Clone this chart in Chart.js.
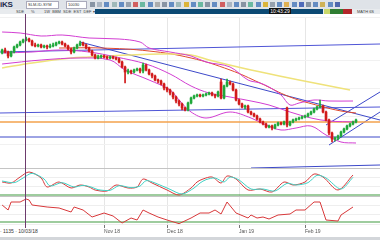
<!DOCTYPE html>
<html>
<head>
<meta charset="utf-8">
<script src="https://cdn.jsdelivr.net/npm/chart.js@4.4.1/dist/chart.umd.min.js"></script>
<style>
  body { margin: 0; width: 380px; height: 240px; overflow: hidden; background: #fff; position: relative;
         font-family: "Liberation Sans", Arial, sans-serif; }
  #toolbar { position: absolute; left: 0; top: 0; width: 380px; height: 9px; background: #dfe3e8; }
  #logo { position: absolute; left: 0; top: 0; font: bold 8px/9px "Liberation Sans"; color: #1d2b4c; letter-spacing: -0.3px; }
  .inp { position: absolute; top: 1px; height: 6px; background: #fff; border: 1px solid #aab; font: 4px/6px "Liberation Sans"; color: #333; padding-left: 1px; }
  .ico { position: absolute; top: 2px; width: 5px; height: 5px; }
  #infobar { position: absolute; left: 0; top: 9px; width: 380px; height: 5px; background: #e8ebee; font: 4px/5px "Liberation Sans"; color: #444; }
  #bluebar { position: absolute; left: 95px; top: 9px; width: 228px; height: 5px; background: #0c4a74; }
  #clock { position: absolute; left: 269px; top: 8px; width: 22px; height: 6px; background: #111; color: #fff; font: 5px/6px "Liberation Sans"; text-align: center; }
  #chartBox { position: absolute; left: 0; top: 14px; width: 380px; height: 223px; }
  #cross { position: absolute; left: 0; top: 228px; height: 7px; background: #fff; font: 5px/7px "Liberation Sans"; color: #333; padding-right: 1px; }
  #footer { position: absolute; left: 0; top: 237px; width: 380px; height: 3px; background: #d3d6da; }
</style>
</head>
<body>
<div id="toolbar">
  <div id="logo">iKS</div>
  <div class="inp" style="left:26px;width:30px">SLM-ID-SYM</div>
  <div class="inp" style="left:66px;width:18px">10030</div>
</div>
<div id="infobar">
  <span style="position:absolute;left:16px">SDE</span>
  <span style="position:absolute;left:31px">%</span>
  <span style="position:absolute;left:44px">1W&nbsp; BBM&nbsp; SDE&nbsp; EST&nbsp; DEF ▾</span>
  <span style="position:absolute;left:324px;top:0;width:6px;height:5px;background:#c9d86a"></span>
  <span style="position:absolute;left:330px;top:0;width:13px;height:5px;background:#2f7d32"></span>
  <span style="position:absolute;left:343px;top:0;width:9px;height:5px;background:#b3262a"></span>
  <span style="position:absolute;left:357px">MATH 6S</span>
</div>
<div id="bluebar"></div>
<div id="clock">10:43:29</div>
<div id="chartBox"><canvas id="chart" width="380" height="223"></canvas></div>
<div id="cross">· 1135 · 10/03/18</div>
<div id="footer"></div>

<script>
  // daily candles, one per index
  const opens  = [147,150,148,144,148,153,155,158,160,161,159,155,154,155,153,154,153,154,155,157,
                  158,156,154,151,148,152,155,157,155,152,149,145,142,143,144,143,142,143,142,141,
                  138,133,128,129,128,130,131,129,135,130,126,124,120,119,116,112,110,107,103,99,
                  96,92,90,97,102,104,105,104,105,106,107,105,104,118,102,114,118,116,110,100,
                  96,93,94,88,86,84,81,78,76,73,74,72,75,77,76,92,75,78,80,81,
                  82,83,84,86,88,91,93,94,88,80,67,61,62,64,68,71,74,76,78];
  const closes = [150,148,144,148,153,155,158,160,161,159,155,154,155,153,154,153,154,155,157,158,
                  156,154,151,148,152,155,157,155,152,149,145,142,143,144,143,142,143,142,141,138,
                  133,128,129,128,130,131,129,135,130,126,124,120,119,116,112,110,107,103,99,96,
                  92,90,97,102,104,105,104,105,106,107,105,104,108,102,114,118,116,110,100,96,
                  93,94,88,86,84,81,78,76,73,74,72,75,77,76,78,75,78,80,81,82,
                  83,84,86,88,91,93,94,88,80,67,61,62,64,68,71,74,76,78,80];
  const highs  = [151,152,149,149,154,156,159,161,163,162,160,157,156,156,155,155,156,157,158,159,
                  159,157,155,152,153,156,159,158,156,153,150,146,145,145,145,144,144,144,143,142,
                  139,134,131,130,131,132,132,137,136,131,127,125,121,120,117,113,111,108,104,100,
                  97,93,98,103,105,106,106,106,107,108,108,106,109,121,115,121,119,117,111,101,
                  97,95,95,89,87,85,82,79,77,75,75,76,78,78,79,93,79,81,82,83,
                  84,85,87,89,92,94,100,95,89,81,68,63,65,69,72,75,77,79,81];
  const lows   = [146,147,142,143,147,152,154,157,159,158,154,153,153,152,152,151,152,153,154,156,
                  155,153,150,146,147,151,154,154,151,148,144,141,141,142,142,141,141,141,140,137,
                  132,117,126,126,127,129,127,127,129,125,122,119,117,115,110,108,105,101,97,94,
                  90,89,89,96,101,103,103,103,104,105,104,102,103,101,101,113,115,109,99,95,
                  92,91,87,85,83,80,77,75,72,72,70,71,74,75,75,73,74,77,79,80,
                  81,82,83,85,87,90,92,87,79,65,58,59,60,63,67,70,73,75,77];

  // overlay lines, [index, price]
  const upperBand  = [[0,168],[6,167],[13,164],[20,165],[29,162],[39,161],[46,158],[49,152],[56,148],[63,144],
                      [68,138],[76,133],[82,120],[86,117],[89,113],[93,105],[96,95],[99,97],[104,100],[109,99],[117,99]];
  const middleBand = [[0,147],[10,148],[19,150],[29,148],[38,143],[48,136],[56,126],[63,114],[69,107],[76,103],
                      [83,99],[89,95],[96,88],[103,82],[109,79],[118,78]];
  const lowerBand  = [[0,136],[13,140],[26,142],[36,140],[41,130],[49,120],[56,110],[59,100],[63,88],[68,82],
                      [76,88],[83,82],[88,75],[93,70],[98,72],[103,74],[108,65],[113,58],[118,57]];
  const slowMA     = [[0,132],[10,137],[23,142],[29,143],[42,145],[53,146],[63,145],[69,140],[83,130],[99,120],[116,110]];
  const fastMA     = [[19,152],[33,152],[49,149],[63,142],[76,130],[86,117],[96,103],[106,94],[113,89],[118,87]];
  const trendDown  = [[26,158],[126,80]];
  const topLine    = [[-1,148],[126,156]];
  const midLine    = [[-1,87],[126,93]];
  const orangeLine = [[-1,78],[126,78]];
  const lowLine    = [[-1,63],[126,63]];
  const floorLine  = [[83,32],[126,35]];
  const channelUp  = [[108,75],[126,108]];
  const channelLow = [[109,55],[126,88]];

  // oscillators
  const stochK = [[0,54],[3,51],[6,69],[9,84],[13,66],[15,39],[19,54],[23,36],[26,45],[29,39],[31,30],[35,27],
                  [38,45],[42,36],[45,39],[47,63],[50,51],[55,30],[59,15],[63,36],[65,54],[67,63],[70,69],[73,51],
                  [75,72],[78,63],[82,30],[86,33],[90,24],[94,54],[97,45],[101,54],[104,78],[107,69],[112,30],[117,75]];
  const stochD = [[0,57],[4,52],[7,66],[10,80],[14,63],[16,42],[20,52],[24,39],[27,44],[30,38],[32,31],[36,29],
                  [39,43],[43,37],[46,42],[48,58],[51,51],[56,32],[60,18],[64,36],[66,51],[68,61],[71,66],[74,54],
                  [76,69],[79,60],[83,33],[87,33],[91,27],[95,50],[98,45],[102,52],[105,74],[108,66],[113,33],[117,68]];
  const rsi    = [[0,63],[2,48],[3,72],[6,72],[8,81],[9,78],[10,63],[15,57],[19,54],[23,42],[24,57],[27,48],
                  [30,27],[34,39],[37,30],[40,9],[43,24],[45,18],[47,48],[49,39],[52,27],[55,18],[59,7],[63,24],
                  [66,39],[69,39],[71,48],[73,36],[75,72],[78,39],[82,24],[83,33],[85,24],[87,27],[89,21],[92,33],
                  [96,36],[98,48],[101,48],[104,72],[106,72],[108,18],[112,15],[113,33],[117,57]];
  const stochFloor = 15;
  const rsiFloor   = 12;

  // date axis
  const tickIdx    = [34, 55, 79, 101];
  const tickLabels = ['Nov 18', 'Dec 18', 'Jan 19', 'Feb 19'];
  const crosshairIndex = 7.7;

  const UP = '#1fa83a', DOWN = '#d11a1a';
  const candleColors = closes.map((c, i) => c >= opens[i] ? UP : DOWN);
  const idx = closes.map((c, i) => i);

  function line(points, color, axis, extra) {
    return Object.assign({
      type: 'line',
      data: points.map(p => ({ x: p[0], y: p[1] })),
      borderColor: color,
      borderWidth: 1,
      pointRadius: 0,
      tension: 0,
      yAxisID: axis,
      order: 2
    }, extra || {});
  }
  function flat(value, axis, color) {
    return line([[-1, value], [126, value]], color, axis, { borderWidth: 1.2 });
  }

  const overlay = {
    id: 'overlay',
    afterDatasetsDraw(chart) {
      const { ctx, chartArea, scales } = chart;
      ctx.save();
      ctx.strokeStyle = '#c4c4c4';
      ctx.lineWidth = 1;
      ['osc1', 'osc2'].forEach(id => {
        const y = Math.round(scales[id].top) + 0.5;
        ctx.beginPath(); ctx.moveTo(chartArea.left, y); ctx.lineTo(chartArea.right, y); ctx.stroke();
      });
      const x = Math.round(scales.x.getPixelForValue(crosshairIndex)) + 0.5;
      ctx.strokeStyle = '#6d3b6d';
      ctx.beginPath(); ctx.moveTo(x, 0); ctx.lineTo(x, chartArea.bottom + 6); ctx.stroke();
      ctx.restore();
    }
  };

  const ctx = document.getElementById('chart').getContext('2d');
  new Chart(ctx, {
    type: 'bar',
    data: {
      datasets: [
        { type: 'bar', data: idx.map(i => ({ x: i, y: [opens[i], closes[i]] })), backgroundColor: candleColors,
          barThickness: 2, grouped: false, yAxisID: 'y', order: 0 },
        { type: 'bar', data: idx.map(i => ({ x: i, y: [lows[i], highs[i]] })), backgroundColor: candleColors,
          barThickness: 1, grouped: false, yAxisID: 'y', order: 1 },
        line(upperBand, '#d23ed2', 'y', { tension: 0.35 }),
        line(middleBand, '#d23ed2', 'y', { tension: 0.35 }),
        line(lowerBand, '#d23ed2', 'y', { tension: 0.35 }),
        line(slowMA, '#efe27a', 'y', { tension: 0.4, borderWidth: 1.5 }),
        line(fastMA, '#e0492e', 'y', { tension: 0.4 }),
        line(trendDown, '#3d49c9', 'y'),
        line(topLine, '#4f55d6', 'y'),
        line(midLine, '#4f55d6', 'y'),
        line(orangeLine, '#f3a24c', 'y', { borderWidth: 1.5 }),
        line(lowLine, '#3d49c9', 'y'),
        line(floorLine, '#3d49c9', 'y'),
        line(channelUp, '#3d49c9', 'y'),
        line(channelLow, '#3d49c9', 'y'),
        line(stochD, '#3fd1c4', 'osc1', { tension: 0.3 }),
        line(stochK, '#d8383a', 'osc1', { tension: 0.3 }),
        flat(stochFloor, 'osc1', '#3f9a3f'),
        line(rsi, '#d8383a', 'osc2'),
        flat(rsiFloor, 'osc2', '#3f9a3f')
      ]
    },
    options: {
      responsive: false,
      animation: false,
      devicePixelRatio: 1,
      layout: { padding: { top: 3, left: 0, right: 0, bottom: 0 } },
      plugins: { legend: { display: false }, tooltip: { enabled: false } },
      scales: {
        x: {
          type: 'linear', min: -0.7, max: 126, offset: false,
          afterBuildTicks: s => { s.ticks = tickIdx.map(v => ({ value: v })); },
          afterFit: s => { s.height = 13; },
          ticks: {
            align: 'start', padding: 1, color: '#555', autoSkip: false, maxRotation: 0,
            font: { family: 'Liberation Sans', size: 5 },
            callback: v => tickLabels[tickIdx.indexOf(v)] || ''
          },
          grid: { offset: false, color: '#e6e6e6', tickLength: 4, tickColor: '#777' },
          border: { display: false }
        },
        y: {
          position: 'left', stack: 'panels', stackWeight: 151, weight: 3,
          min: 32, max: 183,
          ticks: { display: false, stepSize: 28 },
          grid: { color: '#f1f1f1', drawTicks: false },
          border: { display: false }
        },
        osc1: {
          position: 'left', stack: 'panels', stackWeight: 28, weight: 2,
          min: 12, max: 96,
          ticks: { display: false, stepSize: 28 },
          grid: { color: '#eeeeee', drawTicks: false },
          border: { display: false }
        },
        osc2: {
          position: 'left', stack: 'panels', stackWeight: 28, weight: 1,
          min: 6, max: 90,
          ticks: { display: false, stepSize: 28 },
          grid: { color: '#eeeeee', drawTicks: false },
          border: { display: false }
        }
      }
    },
    plugins: [overlay]
  });

  // toolbar icons (decoration only)
  const iconColors = ['#6b7a8c','#9aa6b4','#3b6fb6','#8aa','#3b6fb6','#7d8a99','#c33','#4a8','#3b6fb6','#999',
    '#6b7a8c','#3b6fb6','#8aa','#d9a400','#3b6fb6','#4a8','#6b7a8c','#3b6fb6','#c33','#9aa6b4',
    '#3b6fb6','#6b7a8c','#4a8','#3b6fb6','#d9a400','#7d8a99','#3b6fb6','#e0a020','#3b6fb6','#2244aa',
    '#6b7a8c','#3b6fb6','#c9a227','#3b6fb6','#1f3f9a'];
  const bar = document.getElementById('toolbar');
  iconColors.forEach((c, i) => {
    const d = document.createElement('div');
    d.className = 'ico';
    d.style.left = (90 + i * 7.2) + 'px';
    d.style.background = c;
    d.style.opacity = 0.75;
    bar.appendChild(d);
  });
</script>
</body>
</html>
